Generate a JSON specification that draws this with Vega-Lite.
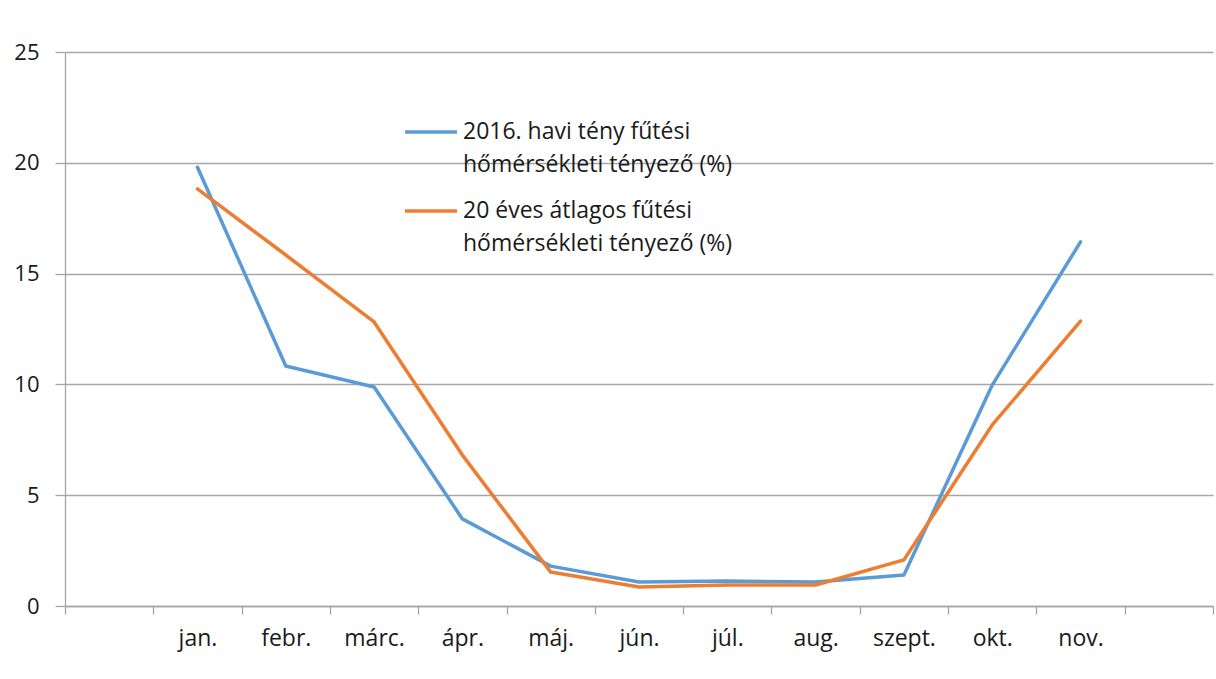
{
  "$schema": "https://vega.github.io/schema/vega-lite/v6.json",
  "autosize": "none",
  "padding": {"left": 65, "top": 52, "right": 3, "bottom": 73},
  "width": 1148,
  "height": 554,
  "background": "white",
  "config": {
    "view": {"stroke": null},
    "font": "Open Sans",
    "axis": {"labelFont": "Open Sans", "labelFontSize": 22, "labelColor": "#1a1a1a", "domainColor": "#a6a6a6", "tickColor": "#a6a6a6", "gridColor": "#a6a6a6", "domainWidth": 1.3, "tickWidth": 1.3, "gridWidth": 1.3}
  },
  "data": {
    "values": [
      {"month": "jan.", "series": "2016. havi tény fűtési hőmérsékleti tényező (%)", "value": 19.8},
      {"month": "febr.", "series": "2016. havi tény fűtési hőmérsékleti tényező (%)", "value": 10.83},
      {"month": "márc.", "series": "2016. havi tény fűtési hőmérsékleti tényező (%)", "value": 9.88},
      {"month": "ápr.", "series": "2016. havi tény fűtési hőmérsékleti tényező (%)", "value": 3.93},
      {"month": "máj.", "series": "2016. havi tény fűtési hőmérsékleti tényező (%)", "value": 1.8},
      {"month": "jún.", "series": "2016. havi tény fűtési hőmérsékleti tényező (%)", "value": 1.08},
      {"month": "júl.", "series": "2016. havi tény fűtési hőmérsékleti tényező (%)", "value": 1.13},
      {"month": "aug.", "series": "2016. havi tény fűtési hőmérsékleti tényező (%)", "value": 1.08},
      {"month": "szept.", "series": "2016. havi tény fűtési hőmérsékleti tényező (%)", "value": 1.4},
      {"month": "okt.", "series": "2016. havi tény fűtési hőmérsékleti tényező (%)", "value": 9.97},
      {"month": "nov.", "series": "2016. havi tény fűtési hőmérsékleti tényező (%)", "value": 16.43},
      {"month": "jan.", "series": "20 éves átlagos fűtési hőmérsékleti tényező (%)", "value": 18.82},
      {"month": "febr.", "series": "20 éves átlagos fűtési hőmérsékleti tényező (%)", "value": 15.84},
      {"month": "márc.", "series": "20 éves átlagos fűtési hőmérsékleti tényező (%)", "value": 12.82},
      {"month": "ápr.", "series": "20 éves átlagos fűtési hőmérsékleti tényező (%)", "value": 6.81},
      {"month": "máj.", "series": "20 éves átlagos fűtési hőmérsékleti tényező (%)", "value": 1.53},
      {"month": "jún.", "series": "20 éves átlagos fűtési hőmérsékleti tényező (%)", "value": 0.86},
      {"month": "júl.", "series": "20 éves átlagos fűtési hőmérsékleti tényező (%)", "value": 0.95},
      {"month": "aug.", "series": "20 éves átlagos fűtési hőmérsékleti tényező (%)", "value": 0.95},
      {"month": "szept.", "series": "20 éves átlagos fűtési hőmérsékleti tényező (%)", "value": 2.08},
      {"month": "okt.", "series": "20 éves átlagos fűtési hőmérsékleti tényező (%)", "value": 8.17},
      {"month": "nov.", "series": "20 éves átlagos fűtési hőmérsékleti tényező (%)", "value": 12.86}
    ]
  },
  "mark": {"type": "line", "strokeWidth": 3.5, "strokeCap": "round", "strokeJoin": "round"},
  "encoding": {
    "x": {
      "field": "month",
      "type": "nominal",
      "bandPosition": 0.5,
      "scale": {"type": "band", "domain": [" ", "jan.", "febr.", "márc.", "ápr.", "máj.", "jún.", "júl.", "aug.", "szept.", "okt.", "nov.", "  "], "paddingInner": 0, "paddingOuter": 0},
      "axis": {"title": null, "labelAngle": 0, "labelFontSize": 23, "tickBand": "extent", "tickSize": 8, "labelPadding": 13, "grid": false, "labelExpr": "trim(datum.label)"}
    },
    "y": {
      "field": "value",
      "type": "quantitative",
      "scale": {"domain": [0, 25], "nice": false},
      "axis": {"title": null, "values": [0, 5, 10, 15, 20, 25], "tickSize": 10, "labelPadding": 16, "grid": true}
    },
    "color": {
      "field": "series",
      "type": "nominal",
      "scale": {"domain": ["2016. havi tény fűtési hőmérsékleti tényező (%)", "20 éves átlagos fűtési hőmérsékleti tényező (%)"], "range": ["#5b9bd5", "#ed7d31"]},
      "legend": {
        "title": null,
        "orient": "none",
        "legendX": 338,
        "legendY": 52,
        "symbolType": "stroke",
        "symbolSize": 2700,
        "symbolStrokeWidth": 3.5,
        "labelFont": "Open Sans",
        "labelFontSize": 23,
        "labelColor": "#1a1a1a",
        "labelLimit": 400,
        "labelOffset": 4,
        "rowPadding": 6,
        "labelExpr": "indexof(datum.label, '2016') == 0 ? ['2016. havi tény fűtési', 'hőmérsékleti tényező (%)'] : ['20 éves átlagos fűtési', 'hőmérsékleti tényező (%)']",
        "encode": {"labels": {"update": {"lineHeight": {"value": 33}}}}
      }
    }
  }
}
